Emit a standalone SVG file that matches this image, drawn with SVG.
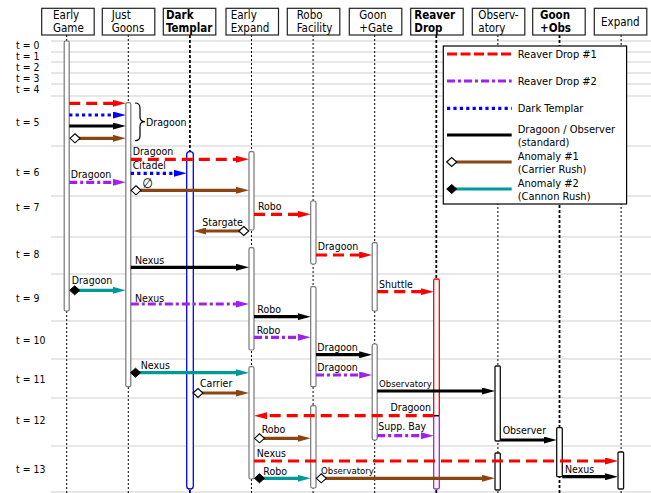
<svg xmlns="http://www.w3.org/2000/svg" width="651" height="493" viewBox="0 0 651 493">
<style>
text{font-family:"DejaVu Sans Condensed","DejaVu Sans",sans-serif;fill:#000}
.h{font-size:11.5px}
.hb{font-size:11.5px;font-weight:bold}
.t{font-size:10.4px}
.l{font-size:10.5px}
.ls{font-size:9.5px}
.lg{font-size:11px}
.grid{stroke:#cfcfcf;stroke-width:1.2}
.box{fill:#fff;stroke:#222;stroke-width:1.2}
.life{stroke:#000;stroke-width:1;stroke-dasharray:2 2}
.lifeb{stroke:#000;stroke-width:1.8;stroke-dasharray:3 2}
.bar{fill:#fff;stroke:#777;stroke-width:1.2}
.barb{fill:#fff;stroke:#111;stroke-width:1.3}
.a{fill:none;stroke-width:3.2}
.red{stroke:#f00;stroke-dasharray:11 6}
.blue{stroke:#00f;stroke-dasharray:3.2 3.2}
.blk{stroke:#000}
.brn{stroke:#8b4513}
.teal{stroke:#009999}
.pur{stroke:#a020f0;stroke-dasharray:8 3 3 3}
.od{fill:#fff;stroke:#000;stroke-width:1.1}
.fd{fill:#000;stroke:#000;stroke-width:1}
</style>
<defs>
<marker id="mr" viewBox="0 0 13 7" markerWidth="13" markerHeight="7" refX="1" refY="3.5" markerUnits="userSpaceOnUse" orient="auto"><path d="M0,0 L13,3.5 L0,7 Z" fill="#f00"/></marker>
<marker id="mb" viewBox="0 0 13 7" markerWidth="13" markerHeight="7" refX="1" refY="3.5" markerUnits="userSpaceOnUse" orient="auto"><path d="M0,0 L13,3.5 L0,7 Z" fill="#00f"/></marker>
<marker id="mk" viewBox="0 0 13 7" markerWidth="13" markerHeight="7" refX="1" refY="3.5" markerUnits="userSpaceOnUse" orient="auto"><path d="M0,0 L13,3.5 L0,7 Z" fill="#000"/></marker>
<marker id="mn" viewBox="0 0 13 7" markerWidth="13" markerHeight="7" refX="1" refY="3.5" markerUnits="userSpaceOnUse" orient="auto"><path d="M0,0 L13,3.5 L0,7 Z" fill="#8b4513"/></marker>
<marker id="mt" viewBox="0 0 13 7" markerWidth="13" markerHeight="7" refX="1" refY="3.5" markerUnits="userSpaceOnUse" orient="auto"><path d="M0,0 L13,3.5 L0,7 Z" fill="#009999"/></marker>
<marker id="mp" viewBox="0 0 13 7" markerWidth="13" markerHeight="7" refX="1" refY="3.5" markerUnits="userSpaceOnUse" orient="auto"><path d="M0,0 L13,3.5 L0,7 Z" fill="#a020f0"/></marker>
<path id="dm" d="M-5,0 L0,-4.5 L5,0 L0,4.5 Z"/>
</defs>

<g id="grid">
<path class="grid" d="M51,41H651M51,52H651M51,62H651M51,73H651M51,84H651M51,96H651M51,146H651M51,196H651M51,237H651M51,274H651M51,321H651M51,359H651M51,398H651M51,446H651M51,492H651"/>
</g>

<g id="time-labels" class="t">
<text x="16" y="48.5">t = 0</text>
<text x="16" y="59.5">t = 1</text>
<text x="16" y="70.5">t = 2</text>
<text x="16" y="81.5">t = 3</text>
<text x="16" y="92.7">t = 4</text>
<text x="16" y="126">t = 5</text>
<text x="16" y="175.7">t = 6</text>
<text x="16" y="210.7">t = 7</text>
<text x="16" y="257.7">t = 8</text>
<text x="16" y="301.7">t = 9</text>
<text x="16" y="344.3">t = 10</text>
<text x="16" y="382.7">t = 11</text>
<text x="16" y="424">t = 12</text>
<text x="16" y="473.3">t = 13</text>
</g>

<g id="lifelines">
<path class="life" d="M66.7,35V493M128.3,35V493M251.5,35V493M313.1,35V493M374.7,35V493M497.9,35V493M621.1,35V493"/>
<path class="lifeb" d="M189.9,35V493M436.3,35V493M559.5,35V493"/>
</g>

<g id="node-early-game">
<rect class="box" x="41.7" y="8.3" width="52.5" height="26.7"/>
<text class="h" x="53" y="19">Early</text><text class="h" x="53" y="31.7">Game</text>
<rect class="bar" x="64.2" y="41" width="5" height="270" rx="1.5"/>
</g>
<g id="node-just-goons">
<rect class="box" x="102.3" y="8.3" width="52.5" height="26.7"/>
<text class="h" x="111.7" y="19">Just</text><text class="h" x="111.7" y="31.7">Goons</text>
<rect class="bar" x="125.8" y="102.7" width="5" height="284" rx="1.5"/>
</g>
<g id="node-dark-templar">
<rect class="box" x="163.3" y="8.3" width="52.5" height="26.7"/>
<text class="hb" x="166" y="19">Dark</text><text class="hb" x="166" y="31.7">Templar</text>
<rect x="186.7" y="151.7" width="6.6" height="337.3" rx="3" fill="#fff" stroke="#00f" stroke-width="1.3"/>
</g>
<g id="node-early-expand">
<rect class="box" x="226" y="8.3" width="52.5" height="26.7"/>
<text class="h" x="230.7" y="19">Early</text><text class="h" x="230.7" y="31.7">Expand</text>
<rect class="bar" x="249" y="151.7" width="5" height="78.3" rx="1.5"/>
<rect class="bar" x="249" y="247.7" width="5" height="102.3" rx="1.5"/>
<rect class="bar" x="249" y="366.7" width="5" height="112.3" rx="1.5"/>
</g>
<g id="node-robo-facility">
<rect class="box" x="287.3" y="8.3" width="52.5" height="26.7"/>
<text class="h" x="296.7" y="19">Robo</text><text class="h" x="296.7" y="31.7">Facility</text>
<rect class="bar" x="310.7" y="201" width="5.3" height="63" rx="1.5"/>
<rect class="bar" x="310.7" y="286.7" width="5.3" height="100" rx="1.5"/>
<rect class="bar" x="310.7" y="405.7" width="5.3" height="82.3" rx="1.5"/>
</g>
<g id="node-goon-gate">
<rect class="box" x="349.3" y="8.3" width="52.5" height="26.7"/>
<text class="h" x="359.3" y="19">Goon</text><text class="h" x="359.3" y="31.7">+Gate</text>
<rect class="bar" x="372.2" y="242.7" width="5" height="68.3" rx="1.5"/>
<rect class="bar" x="372.2" y="344" width="5" height="96" rx="1.5"/>
</g>
<g id="node-reaver-drop">
<rect class="box" x="410.7" y="8.3" width="52.5" height="26.7"/>
<text class="hb" x="414.3" y="19">Reaver</text><text class="hb" x="414.3" y="31.7">Drop</text>
<rect x="433.7" y="279" width="5.6" height="136.7" rx="1.5" fill="#fff" stroke="#f00" stroke-width="1.3"/>
<rect x="433.7" y="415.7" width="5.6" height="73.3" rx="1.5" fill="#fff" stroke="#a020f0" stroke-width="1.3"/>
<path d="M433.7,415.7H439.3" stroke="#000" stroke-width="1.3"/>
</g>
<g id="node-observatory">
<rect class="box" x="472.3" y="8.3" width="52.5" height="26.7"/>
<text class="h" x="478.3" y="19">Observ-</text><text class="h" x="478.3" y="31.7">atory</text>
<rect class="barb" x="495" y="366" width="5.3" height="75" rx="1"/>
<rect class="barb" x="495" y="453" width="5.3" height="37" rx="1"/>
</g>
<g id="node-goon-obs">
<rect class="box" x="532.7" y="8.3" width="52.5" height="26.7"/>
<text class="hb" x="540" y="19">Goon</text><text class="hb" x="540" y="31.7">+Obs</text>
<rect class="barb" x="556.7" y="427.7" width="5.6" height="49" rx="1" stroke-width="1.6"/>
</g>
<g id="node-expand">
<rect class="box" x="594.3" y="8.3" width="52.5" height="26.7"/>
<text class="h" x="601" y="25.5">Expand</text>
<rect class="barb" x="618" y="452" width="5.6" height="37" rx="1"/>
</g>

<g id="connectors">
<path class="a red" d="M69.2,103.3H113.8" marker-end="url(#mr)"/>
<path class="a blue" d="M69.2,115H113.8" marker-end="url(#mb)"/>
<path class="a blk" d="M69.2,126H113.8" marker-end="url(#mk)"/>
<path class="a brn" d="M75,138.3H113.8" marker-end="url(#mn)"/>
<use href="#dm" class="od" x="75" y="138.3"/>
<path d="M135,103 Q140,103 140,108 L140,117 Q140,121.7 145,121.7 Q140,121.7 140,126.5 L140,136 Q140,140.7 135,140.7" fill="none" stroke="#000" stroke-width="1.2"/>
<text class="l" x="146" y="125.5">Dragoon</text>

<path class="a red" d="M130.8,159.3H237" marker-end="url(#mr)"/>
<text class="l" x="132.7" y="155">Dragoon</text>
<path class="a blue" d="M130.8,173.3H174.7" marker-end="url(#mb)"/>
<text class="l" x="132.7" y="169">Citadel</text>
<text class="l" x="142.3" y="188.3" style="font-size:13.5px">∅</text>
<path class="a brn" d="M136,190.3H237" marker-end="url(#mn)"/>
<use href="#dm" class="od" x="136" y="190.3"/>
<path class="a pur" d="M69.2,182.3H113.8" marker-end="url(#mp)"/>
<text class="l" x="70.7" y="177.5">Dragoon</text>

<path class="a red" d="M254,214.3H298.7" marker-end="url(#mr)"/>
<text class="l" x="258" y="209.5">Robo</text>
<path class="a brn" d="M243.8,231H205.3" marker-end="url(#mn)"/>
<use href="#dm" class="od" x="243.8" y="231"/>
<text class="l" x="202.3" y="225.5">Stargate</text>

<path class="a red" d="M316,255H360.2" marker-end="url(#mr)"/>
<text class="l" x="317.7" y="250">Dragoon</text>
<path class="a blk" d="M130.8,267.3H237" marker-end="url(#mk)"/>
<text class="l" x="135" y="264">Nexus</text>

<path class="a teal" d="M74.7,290.3H113.8" marker-end="url(#mt)"/>
<use href="#dm" class="fd" x="74.7" y="290.3"/>
<text class="l" x="71.7" y="284">Dragoon</text>
<path class="a red" d="M377.2,291.7H421.7" marker-end="url(#mr)"/>
<text class="l" x="379" y="288.3">Shuttle</text>
<path class="a pur" d="M130.8,304H237" marker-end="url(#mp)"/>
<text class="l" x="135" y="301.5">Nexus</text>

<path class="a blk" d="M254,316.7H298.7" marker-end="url(#mk)"/>
<text class="l" x="257.3" y="312.7">Robo</text>
<path class="a pur" d="M254,337.3H298.7" marker-end="url(#mp)"/>
<text class="l" x="256.7" y="334">Robo</text>
<path class="a blk" d="M316,354.7H360.2" marker-end="url(#mk)"/>
<text class="l" x="317.3" y="350.7">Dragoon</text>

<path class="a teal" d="M135.5,372.7H237" marker-end="url(#mt)"/>
<use href="#dm" class="fd" x="135.5" y="372.7"/>
<text class="l" x="140.7" y="369">Nexus</text>
<path class="a pur" d="M316,375H360.2" marker-end="url(#mp)"/>
<text class="l" x="317.3" y="370.7">Dragoon</text>
<path class="a blk" d="M377.2,391H483" marker-end="url(#mk)"/>
<text class="ls" x="379" y="386.7">Observatory</text>
<path class="a brn" d="M198,393H237" marker-end="url(#mn)"/>
<use href="#dm" class="od" x="198" y="393"/>
<text class="l" x="200" y="386.7">Carrier</text>

<path class="a red" d="M433.7,415.7H266" marker-end="url(#mr)"/>
<text class="l" x="431" y="410.7" text-anchor="end">Dragoon</text>
<path class="a pur" d="M377.2,435.7H421.7" marker-end="url(#mp)"/>
<text class="l" x="378.3" y="430">Supp. Bay</text>
<path class="a brn" d="M259.5,438.3H298.7" marker-end="url(#mn)"/>
<use href="#dm" class="od" x="259.5" y="438.3"/>
<text class="l" x="261.7" y="433.3">Robo</text>
<path class="a blk" d="M500.3,440H544.7" marker-end="url(#mk)"/>
<text class="l" x="502.7" y="434.3">Observer</text>

<path class="a red" d="M254,461H606" marker-end="url(#mr)"/>
<text class="l" x="256.7" y="457.3">Nexus</text>
<path class="a teal" d="M259.5,478.3H298.7" marker-end="url(#mt)"/>
<use href="#dm" class="fd" x="259.5" y="478.3"/>
<text class="l" x="263.3" y="474.7">Robo</text>
<path class="a brn" d="M321.3,478.3H483" marker-end="url(#mn)"/>
<use href="#dm" class="od" x="321.3" y="478.3"/>
<text class="ls" x="321" y="474">Observatory</text>
<path class="a blk" d="M562.3,476.7H606" marker-end="url(#mk)"/>
<text class="l" x="565" y="473.3">Nexus</text>
</g>

<g id="legend">
<rect x="443.3" y="46" width="183.3" height="158" fill="#fff" stroke="#000" stroke-width="1.2"/>
<path class="a" d="M447,54H511.7" stroke="#f00" stroke-dasharray="10 3.5"/>
<path class="a pur" d="M447,81H511.7"/>
<path class="a blue" d="M447,108.3H511.7"/>
<path class="a blk" d="M447,135H511.7"/>
<path class="a brn" d="M451.7,162H511.7"/>
<use href="#dm" class="od" x="451.7" y="162"/>
<path class="a teal" d="M451.7,189H511.7"/>
<use href="#dm" class="fd" x="451.7" y="189"/>
<text class="lg" x="517.7" y="58">Reaver Drop #1</text>
<text class="lg" x="517.7" y="85">Reaver Drop #2</text>
<text class="lg" x="517.7" y="112.3">Dark Templar</text>
<text class="lg" x="517.7" y="133">Dragoon / Observer</text>
<text class="lg" x="517.7" y="145.9">(standard)</text>
<text class="lg" x="517.7" y="160">Anomaly #1</text>
<text class="lg" x="517.7" y="172.9">(Carrier Rush)</text>
<text class="lg" x="517.7" y="187">Anomaly #2</text>
<text class="lg" x="517.7" y="199.9">(Cannon Rush)</text>
</g>
</svg>
